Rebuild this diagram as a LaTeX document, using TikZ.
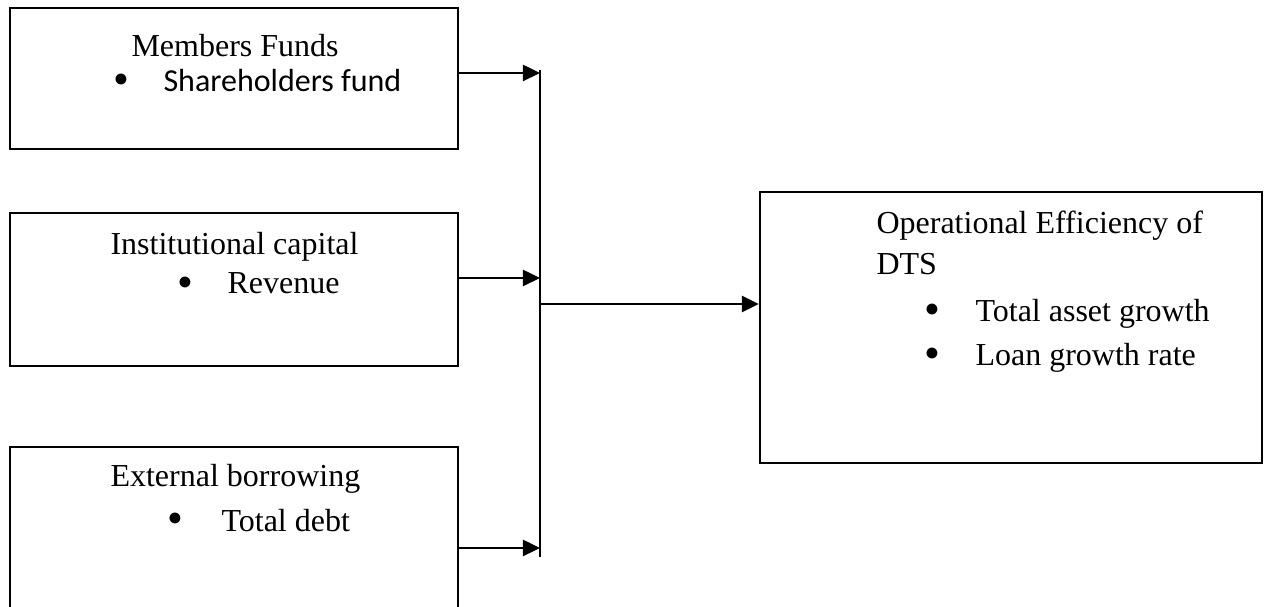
\documentclass[tikz,border=0pt]{standalone}
\usepackage{fontspec}
\setmainfont{Liberation Serif}
\newfontfamily\calibri{Carlito}
\usetikzlibrary{arrows.meta}

\tikzset{
    box/.style={draw, line width=0.8pt, inner sep=0pt},
    txt/.style={anchor=west, inner sep=0pt, text height=0.7em, text depth=0.2em},
    dot/.style={anchor=center, inner sep=0pt, font=\fontsize{17}{17}\selectfont},
    arr/.style={line width=1pt, -{Triangle[length=6.4pt, width=6pt]}},
}

\begin{document}
\begin{tikzpicture}[x=0.375pt, y=-0.375pt, font=\fontsize{12}{14}\selectfont]
    \useasboundingbox (0, 0) rectangle (1266, 607);

    % the four boxes
    \node[box, minimum width=168pt, minimum height=52.9pt] (members) at (234, 78.5) {};
    \node[box, minimum width=168pt, minimum height=57.4pt] (institutional) at (234, 289.5) {};
    \node[box, minimum width=168pt, minimum height=63pt] (external) at (234, 531) {}; % bottom edge runs off the page
    \node[box, minimum width=188.3pt, minimum height=101.6pt] (efficiency) at (1011, 327.5) {};

    % texts of the left boxes
    \node[txt] (memberstitle) at (131, 49.5) {Members Funds};
    \node[dot] (membersdot) at (121, 84) {\textbullet};
    \node[txt] (membersitem) at (163, 84.5) {\calibri Shareholders fund};

    \node[txt] (institutionaltitle) at (110, 247.5) {Institutional capital};
    \node[dot] (institutionaldot) at (185, 287) {\textbullet};
    \node[txt] (institutionalitem) at (227, 286.5) {Revenue};

    \node[txt] (externaltitle) at (110, 479.5) {External borrowing};
    \node[dot] (externaldot) at (175, 523) {\textbullet};
    \node[txt] (externalitem) at (221, 524.5) {Total debt};

    % text of the right box
    \node[txt] (efficiencytitle) at (876, 226.5) {Operational Efficiency of};
    \node[txt] (efficiencytitleb) at (876, 268) {DTS};
    \foreach \i/\y/\item in {1/314.5/Total asset growth, 2/358.5/Loan growth rate} {
        \node[dot] (efficiencydot\i) at (932, \y) {\textbullet};
        \node[txt] (efficiencyitem\i) at (975, \y) {\item};
    }

    % collecting line and arrows
    \coordinate (bustop) at (540, 70);
    \coordinate (busbottom) at (540, 557);
    \draw[line width=0.9pt] (bustop) -- (busbottom);

    \coordinate (in1) at (540, 73);
    \coordinate (in2) at (540, 278);
    \coordinate (in3) at (540, 548);
    \foreach \src/\dst in {members/in1, institutional/in2, external/in3} {
        \draw[arr] (\src.east |- \dst) -- (\dst); % arrow into the line
    }

    \coordinate (out) at (540, 304);
    \draw[arr] (out) -- (efficiency.west |- out);

\end{tikzpicture}
\end{document}
